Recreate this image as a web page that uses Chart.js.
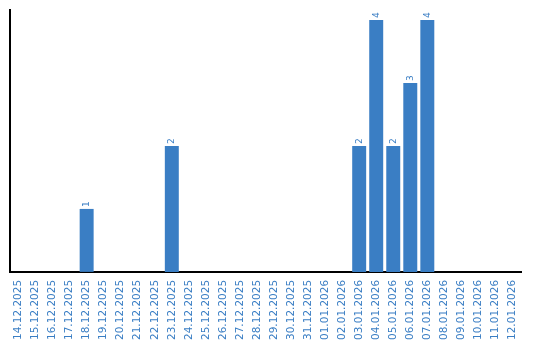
<!DOCTYPE html>
<html>
<head>
<meta charset="utf-8">
<script src="https://cdn.jsdelivr.net/npm/chart.js@4"></script>
<style>
  html, body { margin: 0; padding: 0; background: #fff; overflow: hidden; }
  #wrap { width: 540px; height: 340px; }
</style>
</head>
<body>
<div id="wrap"><canvas id="myBarChart"></canvas></div>
<script>
var labels = [
    "14.12.2025", "15.12.2025", "16.12.2025", "17.12.2025", "18.12.2025",
    "19.12.2025", "20.12.2025", "21.12.2025", "22.12.2025", "23.12.2025",
    "24.12.2025", "25.12.2025", "26.12.2025", "27.12.2025", "28.12.2025",
    "29.12.2025", "30.12.2025", "31.12.2025", "01.01.2026", "02.01.2026",
    "03.01.2026", "04.01.2026", "05.01.2026", "06.01.2026", "07.01.2026",
    "08.01.2026", "09.01.2026", "10.01.2026", "11.01.2026", "12.01.2026"
];
var counts = [
    0, 0, 0, 0, 1,
    0, 0, 0, 0, 2,
    0, 0, 0, 0, 0,
    0, 0, 0, 0, 0,
    2, 4, 2, 3, 4,
    0, 0, 0, 0, 0
];

var blue = "#3a7ec4";

// value labels above bars, rotated
var valueLabels = {
    id: "valueLabels",
    afterDatasetsDraw: function (chart) {
        var ctx = chart.ctx;
        var meta = chart.getDatasetMeta(0);
        ctx.save();
        ctx.fillStyle = blue;
        ctx.font = "9px 'DejaVu Sans'";
        ctx.textAlign = "left";
        ctx.textBaseline = "middle";
        meta.data.forEach(function (bar, i) {
            var v = counts[i];
            if (!v) return;
            ctx.save();
            ctx.translate(bar.x, bar.y - 2);
            ctx.rotate(-Math.PI / 2);
            ctx.fillText(String(v), 0, 0);
            ctx.restore();
        });
        ctx.restore();
    }
};

document.addEventListener("DOMContentLoaded", function () {
    var barCtx = document.getElementById("myBarChart");
    new Chart(barCtx, {
        type: "bar",
        data: {
            labels: labels,
            datasets: [{
                data: counts,
                backgroundColor: blue,
                borderWidth: 0,
                categoryPercentage: 1,
                barPercentage: 0.82
            }]
        },
        options: {
            responsive: true,
            maintainAspectRatio: false,
            animation: false,
            layout: { padding: { left: 2, right: 19, top: 10, bottom: 0 } },
            plugins: {
                legend: { display: false },
                tooltip: { enabled: false }
            },
            scales: {
                x: {
                    grid: { display: false },
                    border: { display: true, color: "#000", width: 2 },
                    ticks: {
                        color: blue,
                        autoSkip: false,
                        minRotation: 90,
                        maxRotation: 90,
                        padding: 0,
                        font: { family: "'DejaVu Sans'", size: 10.5 }
                    }
                },
                y: {
                    min: 0,
                    max: 4.16,
                    grid: { display: false },
                    border: { display: true, color: "#000", width: 2 },
                    ticks: { display: false }
                }
            }
        },
        plugins: [valueLabels]
    });
});
</script>
</body>
</html>
